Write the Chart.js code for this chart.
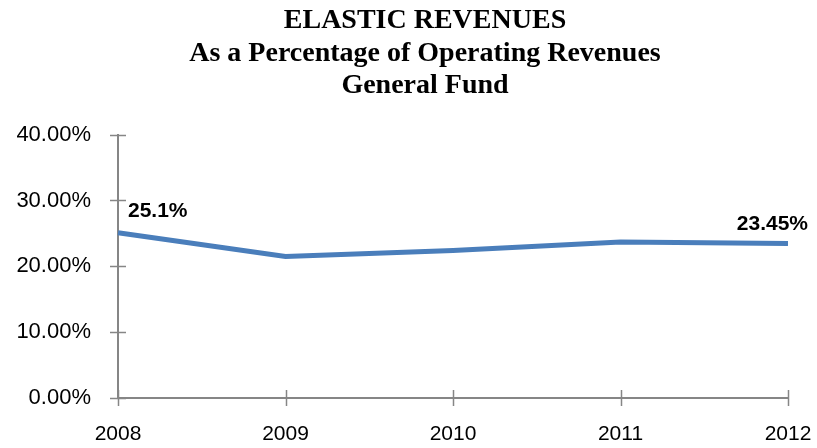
<!DOCTYPE html>
<html>
<head>
<meta charset="utf-8">
<script src="https://cdn.jsdelivr.net/npm/chart.js@4.4.1/dist/chart.umd.min.js"></script>
<style>
  html, body { margin: 0; padding: 0; background: #fff; }
  #wrap { width: 817px; height: 448px; }
</style>
</head>
<body>
<div id="wrap"><canvas id="chart"></canvas></div>
<script>
// values
var years = ["2008", "2009", "2010", "2011", "2012"];
var elasticPct = [25.1, 21.5, 22.4, 23.7, 23.45];
var pointLabels = ["25.1%", "", "", "", "23.45%"];
var titleLines = ["ELASTIC REVENUES", "As a Percentage of Operating Revenues", "General Fund"];

var axisGray = "#868686";

// crossing tick marks like the old office chart
var crossTicks = {
	id: "crossTicks",
	afterDraw: function(chart) {
		var ctx = chart.ctx, xs = chart.scales.x, ys = chart.scales.y;
		var half = 8;
		ctx.save();
		ctx.strokeStyle = axisGray;
		ctx.lineWidth = 1.5;
		ctx.beginPath();
		ys.ticks.forEach(function(t, i) {
			var y = Math.round(ys.getPixelForTick(i)) + 0.5;
			ctx.moveTo(xs.left - half, y);
			ctx.lineTo(xs.left + half, y);
		});
		xs.ticks.forEach(function(t, i) {
			var x = Math.round(xs.getPixelForTick(i)) + 0.5;
			ctx.moveTo(x, ys.bottom - half);
			ctx.lineTo(x, ys.bottom + half);
		});
		ctx.stroke();
		ctx.restore();
	}
};

// title in the original sits a bit right of centre
var titleShift = {
	id: "titleShift",
	afterLayout: function(chart) {
		if (chart.titleBlock) chart.titleBlock.left += 33;
	}
};

var valueLabels = {
	id: "valueLabels",
	afterDatasetsDraw: function(chart) {
		var ctx = chart.ctx;
		var pts = chart.getDatasetMeta(0).data;
		ctx.save();
		ctx.font = "bold 21px 'Liberation Sans', Arial, sans-serif";
		ctx.fillStyle = "#000";
		ctx.textBaseline = "bottom";
		pts.forEach(function(p, i) {
			if (!pointLabels[i]) return;
			if (i == 0) {
				ctx.textAlign = "left";
				ctx.fillText(pointLabels[i], p.x + 10, p.y - 11);
			} else {
				ctx.textAlign = "right";
				ctx.fillText(pointLabels[i], p.x + 20, p.y - 9);
			}
		});
		ctx.restore();
	}
};

var ctx = document.getElementById("chart").getContext("2d");
var chart = new Chart(ctx, {
	type: "line",
	data: {
		labels: years,
		datasets: [{
			data: elasticPct,
			borderColor: "#4A7EBB",
			borderWidth: 5,
			pointRadius: 0,
			tension: 0,
			fill: false
		}]
	},
	options: {
		responsive: true,
		maintainAspectRatio: false,
		animation: false,
		layout: { padding: 0 },
		plugins: {
			legend: { display: false },
			tooltip: { enabled: false },
			title: {
				display: true,
				text: titleLines,
				color: "#000",
				font: { family: "'Liberation Serif', 'Times New Roman', serif", size: 28, weight: "bold", lineHeight: 1.15 },
				padding: { top: 5, bottom: 33 }
			}
		},
		scales: {
			x: {
				offset: false,
				grid: { display: true, drawOnChartArea: false, drawTicks: true, tickLength: 8, color: "rgba(0,0,0,0)" },
				border: { display: true, color: axisGray, width: 2 },
				ticks: {
					color: "#000",
					padding: 16,
					maxRotation: 0,
					font: { family: "'Liberation Sans', Arial, sans-serif", size: 21 }
				},
				afterFit: function(s) { s.height = 50; s.paddingLeft = 0; s.paddingRight = 29; }
			},
			y: {
				min: 0,
				max: 40,
				grid: { display: true, drawOnChartArea: false, drawTicks: true, tickLength: 8, color: "rgba(0,0,0,0)" },
				border: { display: true, color: axisGray, width: 2 },
				ticks: {
					stepSize: 10,
					color: "#000",
					padding: 19,
					font: { family: "'Liberation Sans', Arial, sans-serif", size: 22 },
					callback: function(v) { return v.toFixed(2) + "%"; }
				},
				afterFit: function(s) { s.width = 118; }
			}
		}
	},
	plugins: [crossTicks, titleShift, valueLabels]
});
</script>
</body>
</html>
